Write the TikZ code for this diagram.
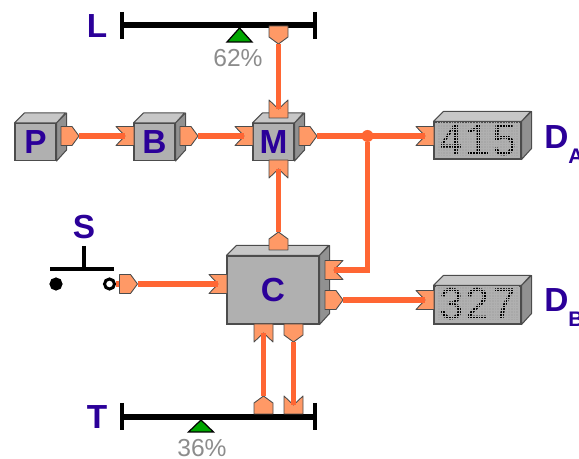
\documentclass[tikz,border=0pt]{standalone}
\usepackage{fontspec}
\setmainfont{Liberation Sans}
\newfontfamily\dotfont{Liberation Mono}
\definecolor{labelblue}{HTML}{2B0099}
\definecolor{wirered}{HTML}{FF6633}
\definecolor{portfill}{HTML}{FF9966}
\definecolor{faceGray}{HTML}{B0B0B0}
\tikzset{
  front/.style={draw=black!70,fill=faceGray,line width=0.6pt,inner sep=0pt,text=labelblue,font=\fontsize{19}{19}\selectfont\bfseries},
  boxtop/.style={draw=black!70,fill=black!22,line width=0.6pt,line join=round},
  boxside/.style={draw=black!70,fill=black!43,line width=0.6pt,line join=round},
  port/.style={draw=black!70,fill=portfill,line width=0.5pt,line join=round},
  wire/.style={draw=wirered,line width=3pt},
  bar/.style={draw=black,line width=3.4pt},
  barend/.style={draw=black,line width=2.2pt},
  pivot/.style={draw=black,fill=green!65!black,line width=0.7pt},
  letter/.style={text=labelblue,inner sep=0pt,font=\fontsize{19}{19}\selectfont\bfseries},
  percent/.style={text=black!45,inner sep=0pt,font=\fontsize{14}{14}\selectfont},
  digits/.style={text=black,inner sep=0pt,font=\fontsize{26.6}{27}\dotfont},
  junction/.style={circle,fill=wirered,inner sep=0pt,minimum size=0.24cm},
  contact/.style={circle,draw=black,inner sep=0pt,line width=1.7pt,minimum size=0.2cm}
}
\newcommand{\cube}[6]{
\node [front,minimum width=#4*0.02cm,minimum height=#5*0.02cm] (#1) at (#2,#3) {#6};
\draw [boxtop] (#1.north west) -- ++(10,10) -- ++(#4,0) -- (#1.north east) -- cycle;
\draw [boxside] (#1.north east) -- ++(10,10) -- ++(0,-#5) -- (#1.south east) -- cycle;
}
\newcommand{\portout}[4]{
\draw [port,shift={(#2,#3)},rotate=#4] (-18,9.5) -- (-7,9.5) -- (0,0) -- (-7,-9.5) -- (-18,-9.5) -- cycle;
\coordinate (#1) at (#2,#3);
}
\newcommand{\portin}[4]{
\draw [port,shift={(#2,#3)},rotate=#4] (-18,9.5) -- (0,9.5) -- (0,-9.5) -- (-18,-9.5) -- (-9,0) -- cycle;
\path [shift={(#2,#3)},rotate=#4] (-9,0) coordinate (#1);
}
\newcommand{\matrixface}[3]{
\fill [black!34] (438,#1+3) rectangle (518,#1-30);
\node [digits,xscale=0.93] (#2) at (478,#1-14.5) {#3};
\draw [draw=faceGray,line width=0.36pt,step=2.7] (436,#1+4) grid (519,#1-31);
}
\begin{document}
\begin{tikzpicture}[x=0.02cm,y=0.02cm]
\path [use as bounding box,clip] (0,0) rectangle (579,-459);
\cube{P}{35.5}{-142}{41}{37}{P}
\cube{B}{154.5}{-142}{41}{37}{B}
\cube{M}{273.5}{-142}{41}{37}{M}
\cube{C}{273}{-290}{92}{68}{C}
\cube{DispA}{477.5}{-140.5}{87}{37}{}
\cube{DispB}{477.5}{-305}{87}{38}{}
\matrixface{-126}{ReadA}{415}
\matrixface{-290}{ReadB}{327}
\coordinate (LL) at (122,-25);
\coordinate (LR) at (315,-25);
\coordinate (TL) at (122,-417);
\coordinate (TR) at (315,-417);
\draw [bar] (LL) -- (LR);
\draw [barend] (122,-12) -- (122,-39);
\draw [barend] (315,-12) -- (315,-39);
\draw [bar] (TL) -- (TR);
\draw [barend] (122,-403) -- (122,-430);
\draw [barend] (315,-403) -- (315,-430);
\draw [pivot] (239.5,-28) -- (252,-42) -- (227,-42) -- cycle;
\draw [pivot] (201,-420) -- (213.5,-432) -- (188.5,-432) -- cycle;
\node [percent] (LVal) at (238,-58) {62\%};
\node [percent] (TVal) at (202,-448.5) {36\%};
\node [letter] (LName) at (97,-26) {L};
\node [letter] (TName) at (97,-417) {T};
\node [letter] (SName) at (84,-227) {S};
\node [letter,anchor=base west] (DAName) at (544,-149) {D\raisebox{-8pt}{\fontsize{12}{12}\selectfont A}};
\node [letter,anchor=base west] (DBName) at (544,-312) {D\raisebox{-8pt}{\fontsize{12}{12}\selectfont B}};
\draw [draw=black,line width=2.8pt] (50,-269) -- (114,-269);
\draw [draw=black,line width=2.8pt] (84,-246) -- (84,-269);
\node [contact,fill=black] (SwL) at (56,-284) {};
\node [contact,fill=white] (SwR) at (109.5,-284) {};
\coordinate (SwStub) at (122,-284);
\draw [wire] (SwR) -- (SwStub);
\portout{LOut}{278.5}{-44}{-90}
\portin{MInT}{278.5}{-118}{-90}
\portin{MInB}{278.5}{-160}{90}
\portout{POut}{79}{-136}{0}
\portin{BIn}{134}{-136}{0}
\portout{BOut}{198}{-136}{0}
\portin{MInL}{253}{-136}{0}
\portout{MOut}{317}{-136}{0}
\portin{DAIn}{434}{-136}{0}
\portin{DBIn}{434}{-300}{0}
\portout{COutT}{278.5}{-232}{90}
\portin{CInR}{325}{-270}{180}
\portout{COutR}{343}{-300}{0}
\portout{SOut}{137.5}{-284}{0}
\portin{CInL}{227}{-284}{0}
\portin{CInB}{263.5}{-324}{90}
\portout{COutB}{293.5}{-342}{-90}
\portout{TOut}{263.5}{-396}{90}
\portin{TIn}{293.5}{-414}{-90}
\draw [wire] (LOut) -- (MInT);
\draw [wire] (POut) -- (BIn);
\draw [wire] (BOut) -- (MInL);
\draw [wire] (MOut) -- (DAIn);
\draw [wire] (COutT) -- (MInB);
\draw [wire] (COutR) -- (DBIn);
\draw [wire] (SOut) -- (CInL);
\draw [wire] (TOut) -- (CInB);
\draw [wire] (COutB) -- (TIn);
\node [junction] (Jn) at (367.5,-136) {};
\draw [wire] (Jn) |- (CInR);
\end{tikzpicture}
\end{document}
